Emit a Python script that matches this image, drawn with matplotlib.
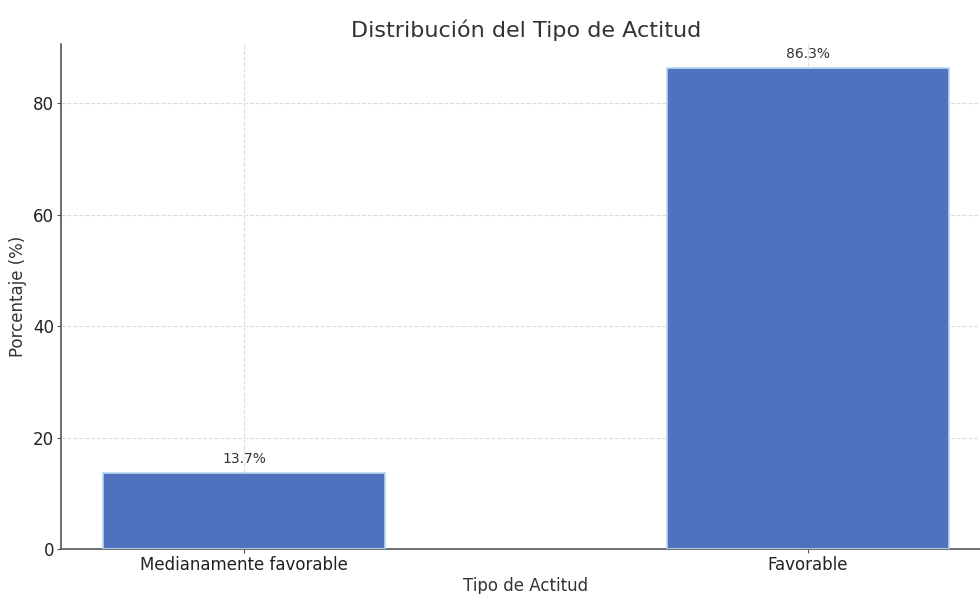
import matplotlib
matplotlib.use("Agg")
import matplotlib.pyplot as plt

# ---------------------------
# Data
# ---------------------------
categorias = ["Medianamente favorable", "Favorable"]
porcentajes = [13.7, 86.3]
etiquetas = ["13.7%", "86.3%"]

# ---------------------------
# Plot
# ---------------------------
fig = plt.figure(figsize=(9.8, 5.94), dpi=100)
ax = fig.add_axes([0.0622, 0.0758, 0.949, 0.850])

bars = ax.bar(categorias, porcentajes, width=0.5, color="#4f71be",
              edgecolor="#b5d8f2", linewidth=1.2, zorder=3)

for bar, txt in zip(bars, etiquetas):
    ax.text(bar.get_x() + bar.get_width() / 2, bar.get_height() + 1.2, txt,
            ha="center", va="bottom", fontsize=10, color="#333333", zorder=4)

ax.set_title("Distribución del Tipo de Actitud", fontsize=16, color="#333333", pad=5)
ax.set_xlabel("Tipo de Actitud", fontsize=12, color="#333333", labelpad=2)
ax.set_ylabel("Porcentaje (%)", fontsize=12, color="#333333")
ax.tick_params(axis="both", labelsize=12, labelcolor="#222222", color="#555555",
               length=3, pad=2)
ax.set_yticks([0, 20, 40, 60, 80])

ax.grid(True, linestyle="--", color="#dddddd", linewidth=0.8, zorder=0)
ax.spines["top"].set_visible(False)
ax.spines["right"].set_visible(False)
for s in ["left", "bottom"]:
    ax.spines[s].set_color("#555555")
    ax.spines[s].set_linewidth(1.2)

fig.savefig("out.png", dpi=100)
